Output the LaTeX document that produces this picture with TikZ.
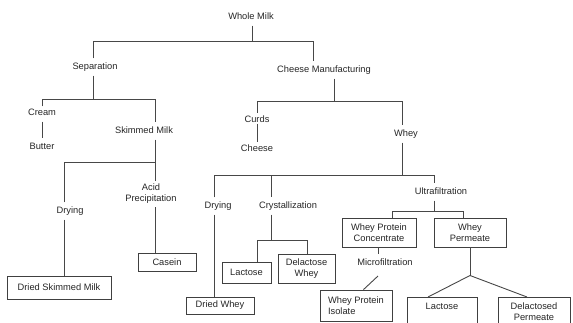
\documentclass[tikz,border=0pt]{standalone}
\usepackage{fontspec}
\setmainfont{Liberation Sans}
\begin{document}
\begin{tikzpicture}[x=1pt,y=-1pt,
  lbl/.style={font=\fontsize{9.3}{11}\selectfont, text=black!85, text height=6.5pt, text depth=1.5pt, inner xsep=2pt, inner ysep=4.5pt, align=center},
  lbltwo/.style={font=\fontsize{9.3}{11}\selectfont, text=black!85, inner xsep=2pt, inner ysep=3pt, align=center},
  bx/.style={draw=black!75, line width=0.9pt, font=\fontsize{9.3}{11}\selectfont, text=black!85, inner sep=1pt, align=center},
  ln/.style={draw=black!72, line width=0.9pt}]
\useasboundingbox[fill=white] (0,0) rectangle (573,322);

% text nodes
\node[lbl] (wm) at (251,17) {Whole Milk};
\node[lbl] (sep) at (95,67) {Separation};
\node[lbl] (cm) at (324,70) {Cheese Manufacturing};
\node[lbl] (cream) at (42,113) {Cream};
\node[lbl] (butter) at (42,147) {Butter};
\node[lbl] (skim) at (144,131) {Skimmed Milk};
\node[lbl] (dry1) at (70,211) {Drying};
\node[lbltwo] (acid) at (151,194) {Acid\\Precipitation};
\node[lbl] (curds) at (257,120) {Curds};
\node[lbl] (cheese) at (257,149) {Cheese};
\node[lbl] (whey) at (406,134) {Whey};
\node[lbl] (dry2) at (218,206) {Drying};
\node[lbl] (cryst) at (288,206) {Crystallization};
\node[lbl] (ultra) at (441,192) {Ultrafiltration};
\node[lbl] (micro) at (385,263) {Microfiltration};

% boxed nodes
\node[bx, minimum width=104pt, minimum height=23pt] (dsm) at (59,287.5) {Dried Skimmed Milk};
\node[bx, minimum width=58pt, minimum height=18pt] (casein) at (167,262) {Casein};
\node[bx, minimum width=68pt, minimum height=17pt] (driedwhey) at (220,305.5) {Dried Whey};
\node[bx, minimum width=49pt, minimum height=21pt] (lac1) at (246.5,272.5) {Lactose};
\node[bx, minimum width=57pt, minimum height=29pt] (delwhey) at (306.5,268.5) {Delactose\\Whey};
\node[bx, minimum width=74pt, minimum height=29pt] (wpc) at (379,232.5) {Whey Protein\\Concentrate};
\node[bx, minimum width=72pt, minimum height=29pt] (wperm) at (470,232.5) {Whey\\Permeate};
\node[bx, minimum width=72pt, minimum height=31pt, align=left] (wpi) at (356,305.5) {Whey Protein\\Isolate};
\node[bx, minimum width=70pt, minimum height=44pt, anchor=north west] (lac2) at (407,297) {};
\node[lbl] (lac2t) at (442,306.5) {Lactose};
\node[bx, minimum width=72pt, minimum height=44pt, anchor=north west] (delperm) at (498,297) {};
\node[lbltwo] (delpermt) at (534,312) {Delactosed\\Permeate};

% junction coordinates
\coordinate (tA) at (252,41); \coordinate (tAl) at (93,41); \coordinate (tAr) at (313,41);
\coordinate (tB) at (93,99); \coordinate (tBl) at (42,99); \coordinate (tBr) at (155,99);
\coordinate (tC) at (155,162); \coordinate (tCl) at (64,162);
\coordinate (tD) at (334,101); \coordinate (tDl) at (257,101); \coordinate (tDr) at (402,101);
\coordinate (tE) at (402,175); \coordinate (tEl) at (214,175); \coordinate (tEm) at (271,175); \coordinate (tEr) at (434,175);
\coordinate (tF) at (271,240); \coordinate (tFl) at (257,240); \coordinate (tFr) at (307,240);
\coordinate (tG) at (434,211); \coordinate (tGl) at (392,211); \coordinate (tGr) at (463,211);
\coordinate (tH) at (378,250);
\coordinate (mA) at (378,276); \coordinate (mB) at (363.5,290);
\coordinate (tJ) at (470,275.5); \coordinate (kL) at (428,297); \coordinate (kR) at (527,297);

% connectors
\draw[ln] (wm.south -| tA) -- (tA);
\draw[ln] (sep.north -| tAl) |- (tAr) -- (cm.north -| tAr);
\draw[ln] (sep.south -| tB) -- (tB);
\draw[ln] ([yshift=-2pt]cream.north -| tBl) |- (tBr) -- (skim.north -| tBr);
\draw[ln] (cream.south) -- (butter.north);
\draw[ln] (skim.south -| tC) -- (tC);
\draw[ln] (dry1.north -| tCl) |- (tC) -- (acid.north -| tC);
\draw[ln] (dry1.south -| tCl) -- (dsm.north -| tCl);
\draw[ln] (acid.south -| tC) -- (casein.north -| tC);
\draw[ln] (cm.south -| tD) -- (tD);
\draw[ln] ([yshift=-1.5pt]curds.north -| tDl) |- (tDr) -- (whey.north -| tDr);
\draw[ln] ([yshift=5pt]curds.south) -- ([yshift=-1.5pt]cheese.north);
\draw[ln] (whey.south -| tE) -- (tE);
\draw[ln] (dry2.north -| tEl) |- (tEr) -- (ultra.north -| tEr);
\draw[ln] (tEm) -- (cryst.north -| tEm);
\draw[ln] (dry2.south -| tEl) -- (driedwhey.north -| tEl);
\draw[ln] (cryst.south -| tF) -- (tF);
\draw[ln] (lac1.north -| tFl) |- (tFr) -- (delwhey.north -| tFr);
\draw[ln] (ultra.south -| tG) -- (tG);
\draw[ln] (wpc.north -| tGl) |- (tGr) -- (wperm.north -| tGr);
\draw[ln] (wpc.south -| tH) -- (micro.north -| tH);
\draw[ln] (mA) -- (wpi.north -| mB);
\draw[ln] (wperm.south) -- (tJ);
\draw[ln] (lac2.north -| kL) -- (tJ) -- (delperm.north -| kR);
\end{tikzpicture}
\end{document}
